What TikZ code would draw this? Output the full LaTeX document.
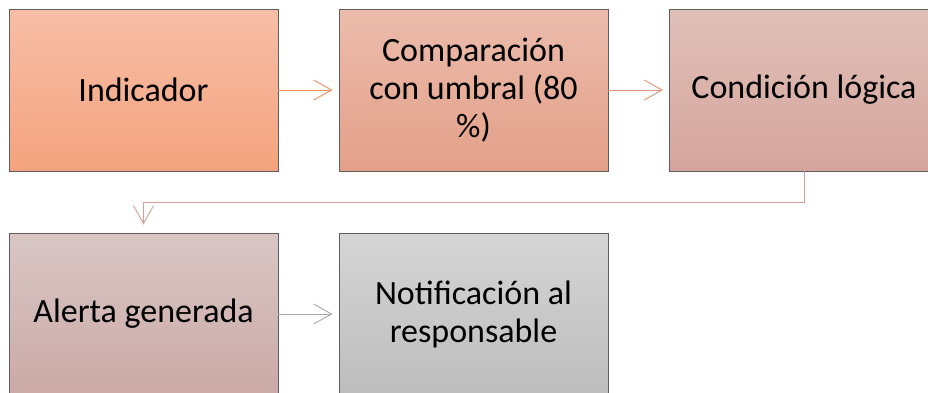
\documentclass[tikz,border=0pt]{standalone}
\usepackage{fontspec}
\setmainfont{Carlito}
\usetikzlibrary{arrows.meta}
\definecolor{bordc}{HTML}{5E5E5E}
\definecolor{aT}{HTML}{F7BEA7}\definecolor{aB}{HTML}{F4A37E}
\definecolor{bT}{HTML}{ECBCAC}\definecolor{bB}{HTML}{E3A089}
\definecolor{cT}{HTML}{E0C0B9}\definecolor{cB}{HTML}{D5A59C}
\definecolor{dT}{HTML}{D8C7C5}\definecolor{dB}{HTML}{CBA9A6}
\definecolor{eT}{HTML}{D5D5D5}\definecolor{eB}{HTML}{BDBDBD}
\definecolor{arA}{HTML}{F0905C}
\definecolor{arB}{HTML}{E1937D}
\definecolor{arC}{HTML}{D29E96}
\definecolor{arD}{HTML}{A8A8A8}
\tikzset{
  box/.style={draw=bordc, line width=0.9pt, minimum width=269pt, minimum height=162pt,
    inner sep=0pt, align=center, font=\fontsize{34pt}{38pt}\selectfont},
  conn/.style={line width=0.9pt, -{Straight Barb[length=18pt,width=20pt,line width=0.9pt]}, shorten >=6pt}
}
\begin{document}
\begin{tikzpicture}[x=1pt,y=-1pt]
\useasboundingbox (0,0) rectangle (928,392);
\node[box, top color=aT, bottom color=aB] (b1) at (143.5,90) {Indicador};
\node[box, top color=bT, bottom color=bB] (b2) at (473.5,90) {Comparación\\con umbral (80\\\%)};
\node[box, top color=cT, bottom color=cB] (b3) at (804,90) {Condición lógica};
\node[box, top color=dT, bottom color=dB] (b4) at (143.5,314) {Alerta generada};
\node[box, top color=eT, bottom color=eB] (b5) at (473.5,314) {Notificación al\\responsable};
\draw[conn, arA] (b1.east) -- (b2.west);
\draw[conn, arB] (b2.east) -- (b3.west);
\draw[conn, arC, shorten >=8pt] (b3.south) -- ++(0,31) -| (b4.north);
\draw[conn, arD] (b4.east) -- (b5.west);
\end{tikzpicture}
\end{document}
